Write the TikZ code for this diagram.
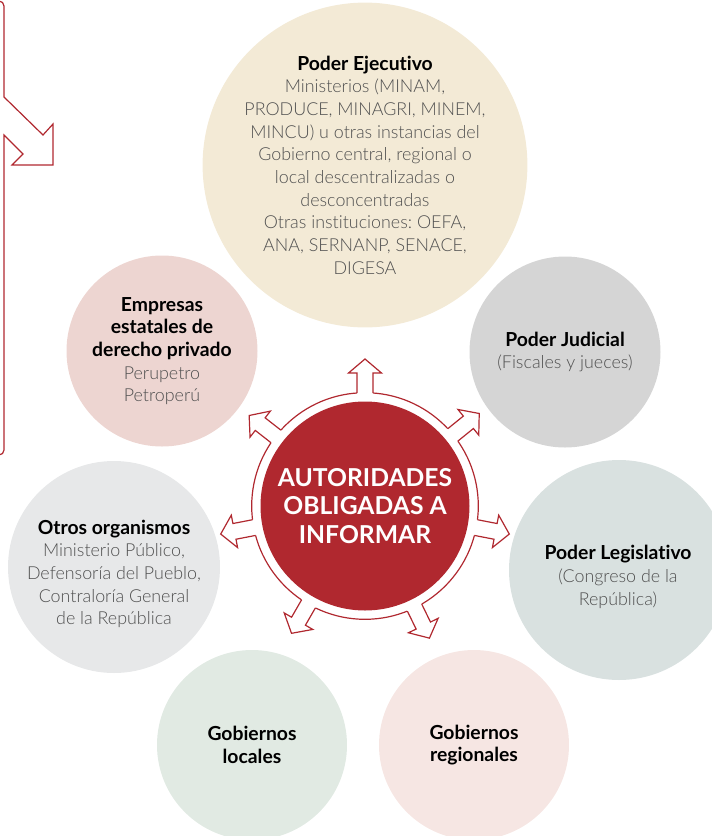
\documentclass[tikz,border=0pt]{standalone}
\usepackage{fontspec}
\IfFontExistsTF{Lato Light}
  {\setmainfont{Lato Light}[Ligatures=NoCommon, BoldFont=Lato Bold]}
  {\setmainfont{Lato}[Ligatures=NoCommon]}
\frenchspacing

\definecolor{rojo}{HTML}{B0282F}
\definecolor{gristx}{HTML}{505050}
\definecolor{beige}{HTML}{F3EAD6}
\definecolor{grisjud}{HTML}{D5D5D5}
\definecolor{grisleg}{HTML}{D9E1E0}
\definecolor{rosareg}{HTML}{F6E6E3}
\definecolor{verdeloc}{HTML}{E1EAE3}
\definecolor{grisotr}{HTML}{E7E8E9}
\definecolor{rosaemp}{HTML}{EDD5D1}

\tikzset{
  disc/.style={circle, inner sep=0pt, align=center, text=gristx,
    font=\fontsize{13.4}{17}\selectfont},
  texto/.style={inner sep=0pt, align=center, text=gristx,
    font=\fontsize{13.4}{17}\selectfont},
  flecha/.style={rojo, line width=0.9pt, line join=miter},
}
\newcommand{\titulo}[1]{{\fontsize{14.5}{17}\bfseries\color{black}#1}}

\begin{document}
\begin{tikzpicture}[x=0.75pt,y=-0.75pt]
      \useasboundingbox (0,0) rectangle (711,836);
      % circulos de las autoridades
      \node[disc, fill=beige, minimum size=229.5pt] (ejecutivo) at (365,165)
        {\titulo{Poder Ejecutivo}\\Ministerios (MINAM,\\PRODUCE, MINAGRI, MINEM,\\MINCU) u otras instancias del\\Gobierno central, regional o\\local descentralizadas o\\desconcentradas\\Otras instituciones: OEFA,\\ANA, SERNANP, SENACE,\\DIGESA};
      \node[disc, fill=grisjud, minimum size=143.25pt] (judicial) at (565,352)
        {\titulo{Poder Judicial}\\(Fiscales y jueces)};
      \node[disc, fill=grisleg, minimum size=165pt] (legislativo) at (619,570) {};
      \node[texto] (legislativoT) at (618,577) {\titulo{Poder Legislativo}\\(Congreso de la\\República)};
      \node[disc, fill=rosareg, minimum size=142.5pt] (regionales) at (474,745)
        {\titulo{Gobiernos}\\\titulo{regionales}};
      \node[disc, fill=verdeloc, minimum size=142.5pt] (locales) at (252,745)
        {\titulo{Gobiernos}\\\titulo{locales}};
      \node[disc, fill=grisotr, minimum size=159pt] (otros) at (114,567) {};
      \node[texto] (otrosT) at (114,574) {\titulo{Otros organismos}\\Ministerio Público,\\Defensoría del Pueblo,\\Contraloría General\\de la República};
      \node[disc, fill=rosaemp, minimum size=143.25pt] (empresas) at (162,351)
        {\titulo{Empresas}\\\titulo{estatales de}\\\titulo{derecho privado}\\Perupetro\\Petroperú};
      % centro con flechas
      \coordinate (ctr) at (365,506);
      \draw[flecha] (ctr) circle[radius=113.3];
      \foreach \a in {90,39,142,-11,191,240,296} {
        \begin{scope}[shift={(ctr)}, rotate=\a]
          \fill[white] (109,8) -- (133,8) -- (133,16.5) -- (147,0) -- (133,-16.5) -- (133,-8) -- (109,-8) -- cycle;
          \draw[flecha] (113,8) -- (133,8) -- (133,16.5) -- (147,0) -- (133,-16.5) -- (133,-8) -- (113,-8);
        \end{scope}
      }
      \node[circle, fill=rojo, inner sep=0pt, minimum size=156.75pt, align=center, text=white,
        font=\bfseries\fontsize{18.5}{21.5}\selectfont] (centro) at (ctr) {AUTORIDADES\\OBLIGADAS A\\INFORMAR};
      % llave de la izquierda
      \draw[flecha] (-20,1) -- (-1,1) to[out=0,in=90] (4,6) -- (4,97) -- (43,135) -- (53,124) -- (53,165)
        -- (12,165) -- (23,154) -- (4,135) -- (4,450) to[out=-90,in=0] (-1,455) -- (-20,455);
\end{tikzpicture}
\end{document}
